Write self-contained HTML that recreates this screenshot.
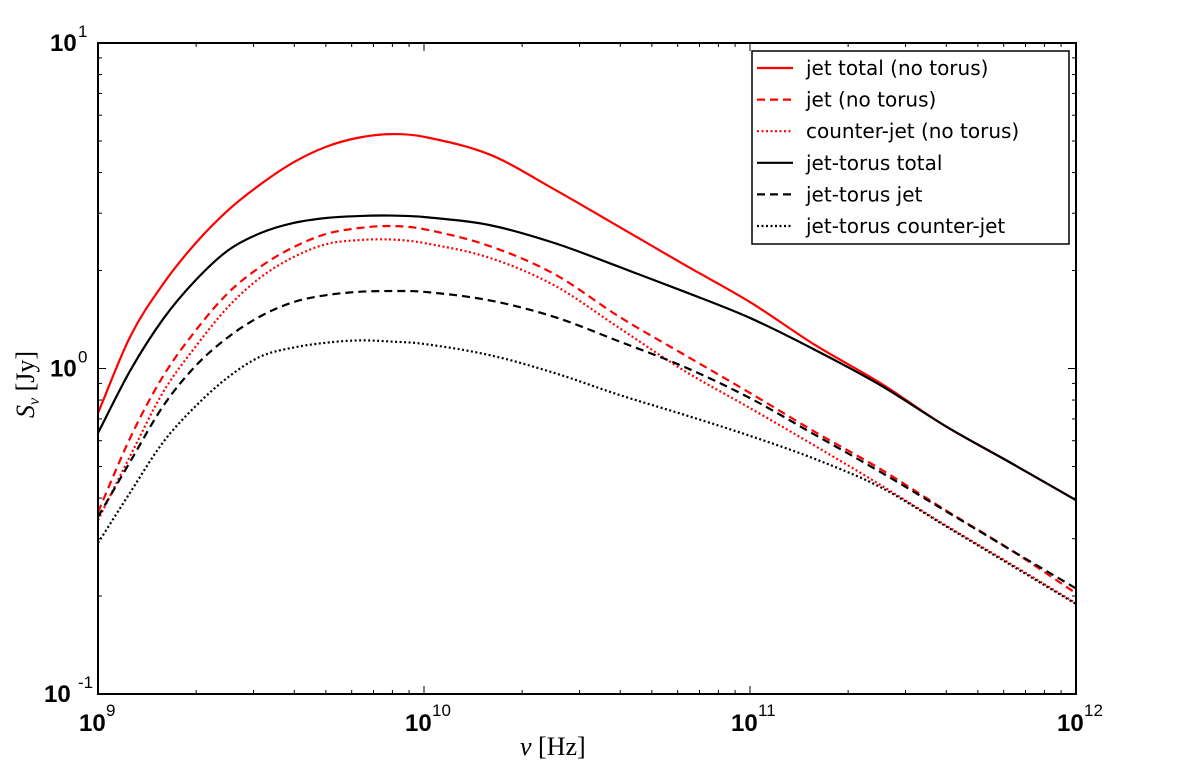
<!DOCTYPE html>
<html><head><meta charset="utf-8"><style>
body{margin:0;background:#fff}
svg{display:block}
</style></head><body>
<svg id="chart" width="1200" height="772" viewBox="0 0 1200 772" font-family="Liberation Sans, DejaVu Sans, sans-serif">
<g id="curves"></g>
<g id="axes"></g>
<g id="legend"></g>
</svg>
<script>
const logNu = [9.0,9.1,9.2,9.3,9.4,9.5,9.6,9.7,9.8,9.9,10.0,10.2,10.4,10.6,10.8,11.0,11.2,11.4,11.6,11.8,12.0];
const jetTotalNoTorus = [0.73,1.26,1.82,2.43,3.07,3.69,4.30,4.80,5.12,5.25,5.15,4.55,3.55,2.72,2.08,1.60,1.18,0.902,0.665,0.513,0.394];
const jetNoTorus = [0.362,0.616,0.948,1.31,1.71,2.06,2.36,2.59,2.70,2.74,2.68,2.38,1.95,1.44,1.10,0.841,0.638,0.491,0.367,0.277,0.204];
const counterJetNoTorus = [0.342,0.542,0.847,1.17,1.55,1.91,2.20,2.41,2.48,2.49,2.43,2.19,1.80,1.33,0.982,0.756,0.578,0.439,0.330,0.251,0.190];
const jetTorusTotal = [0.634,0.99,1.42,1.87,2.31,2.61,2.80,2.90,2.94,2.95,2.92,2.76,2.43,2.05,1.72,1.43,1.14,0.889,0.665,0.513,0.394];
const jetTorusJet = [0.350,0.520,0.767,1.02,1.25,1.45,1.60,1.68,1.72,1.73,1.72,1.62,1.44,1.21,1.01,0.811,0.625,0.481,0.365,0.277,0.211];
const jetTorusCounterJet = [0.291,0.418,0.594,0.767,0.942,1.09,1.16,1.20,1.22,1.21,1.19,1.10,0.969,0.829,0.720,0.621,0.527,0.432,0.328,0.249,0.189];
const xTickLabels = ["9","10","11","12"];
const yTickLabels = ["-1","0","1"];
const legendLabels = ["jet total (no torus)","jet (no torus)","counter-jet (no torus)","jet-torus total","jet-torus jet","jet-torus counter-jet"];

const X0=98,X1=1076,Y0=694,Y1=43;
const xs = l => X0 + (l-9)/3*(X1-X0);
const ys = v => Y0 - (Math.log10(v)+1)/2*(Y0-Y1);
const NS="http://www.w3.org/2000/svg";
function mk(tag,attrs,parent){const e=document.createElementNS(NS,tag);for(const k in attrs)e.setAttribute(k,attrs[k]);parent.appendChild(e);return e;}

const styles=[
 {d:jetTotalNoTorus,c:"#ff0000",dash:"",n:"jet-total-no-torus-line"},
 {d:jetNoTorus,c:"#ff0000",dash:"8,5",n:"jet-no-torus-line"},
 {d:counterJetNoTorus,c:"#ff0000",dash:"2,2.5",n:"counter-jet-no-torus-line"},
 {d:jetTorusTotal,c:"#000",dash:"",n:"jet-torus-total-line"},
 {d:jetTorusJet,c:"#000",dash:"8,5",n:"jet-torus-jet-line"},
 {d:jetTorusCounterJet,c:"#000",dash:"2,2.5",n:"jet-torus-counter-jet-line"}
];
const curves=document.getElementById('curves');
function pathFor(arr){
 const p=arr.map((v,i)=>[xs(logNu[i]),ys(v)]);
 const n=p.length;
 const m=p.map((pt,i)=>{
  const a=p[Math.max(0,i-1)],c=p[Math.min(n-1,i+1)];
  return (c[1]-a[1])/(c[0]-a[0]);
 });
 let d=`M${p[0][0]},${p[0][1]}`;
 for(let i=0;i<n-1;i++){
  const b=p[i],c=p[i+1],dx=(c[0]-b[0])/3;
  d+=` C${b[0]+dx},${b[1]+m[i]*dx} ${c[0]-dx},${c[1]-m[i+1]*dx} ${c[0]},${c[1]}`;
 }
 return d;
}
styles.forEach(s=>{
 const el=mk('path',{d:pathFor(s.d),fill:"none",stroke:s.c,"stroke-width":2.2,"stroke-dasharray":s.dash},curves);
 
 
});

const axes=document.getElementById('axes');
const frame=mk('rect',{x:X0,y:Y1,width:X1-X0,height:Y0-Y1,fill:"none",stroke:"#000","stroke-width":2},axes);


for(let dec=9;dec<=12;dec++){
 const x=xs(dec);
 mk('line',{x1:x,y1:Y0,x2:x,y2:Y0-8,stroke:"#000","stroke-width":1},axes);
 mk('line',{x1:x,y1:Y1,x2:x,y2:Y1+8,stroke:"#000","stroke-width":1},axes);
 if(dec<12)for(let m=2;m<=9;m++){const xm=xs(dec+Math.log10(m));
  mk('line',{x1:xm,y1:Y0,x2:xm,y2:Y0-4,stroke:"#000","stroke-width":1},axes);
  mk('line',{x1:xm,y1:Y1,x2:xm,y2:Y1+4,stroke:"#000","stroke-width":1},axes);}
}
xTickLabels.forEach((t,i)=>{
 const x=xs(9+i);
 const tx=mk('text',{x:x-19,y:Y0+37,"font-size":24,"font-weight":"bold"},axes);
 tx.textContent="10";
 
 
 const sp=mk('text',{x:x+8,y:Y0+22,"font-size":17},axes);sp.textContent=t;
});
for(let e=-1;e<=1;e++){
 const y=ys(Math.pow(10,e));
 mk('line',{x1:X0,y1:y,x2:X0+8,y2:y,stroke:"#000","stroke-width":1},axes);
 mk('line',{x1:X1,y1:y,x2:X1-8,y2:y,stroke:"#000","stroke-width":1},axes);
 if(e<1)for(let m=2;m<=9;m++){const ym=ys(m*Math.pow(10,e));
  mk('line',{x1:X0,y1:ym,x2:X0+4,y2:ym,stroke:"#000","stroke-width":1},axes);
  mk('line',{x1:X1,y1:ym,x2:X1-4,y2:ym,stroke:"#000","stroke-width":1},axes);}
}
yTickLabels.forEach((t,i)=>{
 const y=ys(Math.pow(10,i-1));
 const tx=mk('text',{x:i===0?44:50,y:y+8,"font-size":24,"font-weight":"bold"},axes);
 tx.textContent="10";
 
 
 const sp=mk('text',{x:78,y:y-6,"font-size":17},axes);sp.textContent=t;
});
const xl=mk('text',{x:520,y:755,"font-size":26,"font-family":"Liberation Serif, serif"},axes);
xl.innerHTML='<tspan font-style="italic">ν</tspan> [Hz]';


const yl=mk('text',{x:0,y:0,"font-size":26,"font-family":"Liberation Serif, serif",transform:"translate(34,418) rotate(-90)"},axes);
yl.innerHTML='<tspan font-style="italic">S</tspan><tspan font-style="italic" font-size="16" dy="5">ν</tspan><tspan dy="-5"> [Jy]</tspan>';



const lg=document.getElementById('legend');
const box=mk('rect',{x:752,y:51,width:317,height:193,fill:"#fff",stroke:"#000","stroke-width":1.5},lg);


legendLabels.forEach((t,i)=>{
 const y=68+i*31.6;
 const s=styles[i];
 mk('line',{x1:757,y1:y,x2:793,y2:y,stroke:s.c,"stroke-width":2.2,"stroke-dasharray":s.dash},lg);
 const tx=mk('text',{x:806,y:y+7,"font-size":20,"font-family":"DejaVu Sans, sans-serif"},lg);
 tx.textContent=t;
 
 
});
</script>
</body></html>
